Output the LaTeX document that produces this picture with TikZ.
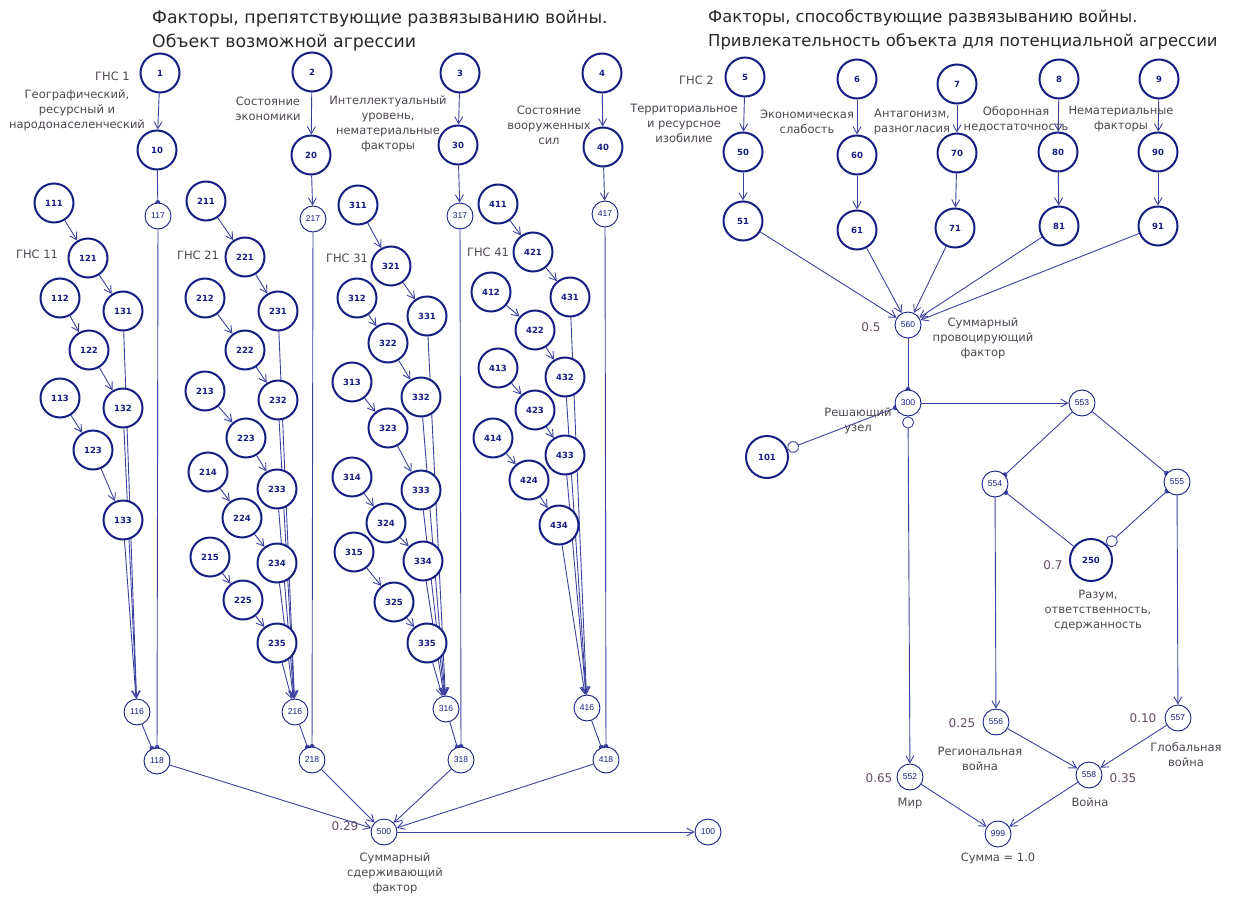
\documentclass[tikz,border=0pt]{standalone}
\usepackage{fontspec}
\setmainfont{DejaVu Sans}
\newfontfamily\narrowfont{Liberation Sans}
\usepackage{tikz}
\usetikzlibrary{arrows.meta,backgrounds}

\definecolor{nodeblue}{RGB}{22,30,130}
\definecolor{edgeblue}{RGB}{60,66,158}
\definecolor{labelgrey}{RGB}{78,70,80}
\definecolor{valgrey}{RGB}{100,76,100}
\definecolor{titlegrey}{RGB}{40,40,44}

\tikzset{
    fnode/.style={circle, draw=nodeblue, line width=2pt, fill=white, minimum size=39pt,
        inner sep=0pt, text=nodeblue, font=\bfseries\fontsize{8.5}{9}\selectfont},
    snode/.style={circle, draw=nodeblue, line width=0.9pt, fill=white, minimum size=26pt,
        inner sep=0pt, text=nodeblue, font=\narrowfont\fontsize{8.5}{9}\selectfont},
    lbl/.style={text=labelgrey, align=center, inner sep=0pt, font=\fontsize{11.5}{15}\selectfont},
    val/.style={text=valgrey, inner sep=0pt, font=\fontsize{12}{14}\selectfont},
    ttl/.style={text=titlegrey, align=left, inner sep=0pt, anchor=north west,
        font=\fontsize{17.3}{24}\selectfont},
    arr/.style={draw=edgeblue, line width=0.9pt, -{Straight Barb[length=7pt,width=8pt]}},
    inh/.style={draw=edgeblue, line width=0.9pt, -{Circle[length=5pt]}, shorten >=-2.5pt},
    inhopen/.style={draw=edgeblue, line width=0.9pt,
        {Circle[open,length=12pt]}-{Circle[length=5pt]}, shorten >=-2.5pt},
}

\begin{document}
\begin{tikzpicture}[x=1pt, y=-1pt]
    \useasboundingbox (0,0) rectangle (1234,899);

    % titles
    \node[ttl] (title1) at (152,10) {Факторы, препятствующие развязыванию войны.\\Объект возможной агрессии};
    \node[ttl, font=\fontsize{16.4}{24}\selectfont] (title2) at (708,10) {Факторы, способствующие развязыванию войны.\\Привлекательность объекта для потенциальной агрессии};

    % top chains of the left part
    \node[fnode] (n1) at (160,73) {1};
    \node[fnode] (n10) at (157,150) {10};
    \node[snode] (n117) at (158,216) {117};
    \node[fnode] (n2) at (312,72) {2};
    \node[fnode] (n20) at (311,155) {20};
    \node[snode] (n217) at (313,219) {217};
    \node[fnode] (n3) at (460,73) {3};
    \node[fnode] (n30) at (458,145) {30};
    \node[snode] (n317) at (460,216) {317};
    \node[fnode] (n4) at (602,73) {4};
    \node[fnode] (n40) at (603,147) {40};
    \node[snode] (n417) at (605,214) {417};

    % group 1
    \node[fnode] (n111) at (54,203) {111};
    \node[fnode] (n121) at (88,258) {121};
    \node[fnode] (n131) at (123,311) {131};
    \node[fnode] (n112) at (60,298) {112};
    \node[fnode] (n122) at (89,350) {122};
    \node[fnode] (n132) at (123,408) {132};
    \node[fnode] (n113) at (60,398) {113};
    \node[fnode] (n123) at (93,450) {123};
    \node[fnode] (n133) at (123,520) {133};
    \node[snode] (n116) at (137,712) {116};
    \node[snode] (n118) at (157,761) {118};

    % group 2
    \node[fnode] (n211) at (206,201) {211};
    \node[fnode] (n221) at (245,257) {221};
    \node[fnode] (n231) at (278,311) {231};
    \node[fnode] (n212) at (205,298) {212};
    \node[fnode] (n222) at (245,350) {222};
    \node[fnode] (n232) at (278,400) {232};
    \node[fnode] (n213) at (205,391) {213};
    \node[fnode] (n223) at (246,438) {223};
    \node[fnode] (n233) at (277,489) {233};
    \node[fnode] (n214) at (208,472) {214};
    \node[fnode] (n224) at (242,518) {224};
    \node[fnode] (n234) at (277,563) {234};
    \node[fnode] (n215) at (210,557) {215};
    \node[fnode] (n225) at (243,600) {225};
    \node[fnode] (n235) at (277,643) {235};
    \node[snode] (n216) at (295,712) {216};
    \node[snode] (n218) at (312,760) {218};

    % group 3
    \node[fnode] (n311) at (358,205) {311};
    \node[fnode] (n321) at (391,266) {321};
    \node[fnode] (n331) at (427,316) {331};
    \node[fnode] (n312) at (357,298) {312};
    \node[fnode] (n322) at (388,343) {322};
    \node[fnode] (n332) at (421,397) {332};
    \node[fnode] (n313) at (352,382) {313};
    \node[fnode] (n323) at (388,428) {323};
    \node[fnode] (n333) at (421,490) {333};
    \node[fnode] (n314) at (352,477) {314};
    \node[fnode] (n324) at (386,523) {324};
    \node[fnode] (n334) at (423,561) {334};
    \node[fnode] (n315) at (354,552) {315};
    \node[fnode] (n325) at (394,602) {325};
    \node[fnode] (n335) at (427,643) {335};
    \node[snode] (n316) at (446,709) {316};
    \node[snode] (n318) at (461,760) {318};

    % group 4
    \node[fnode] (n411) at (498,204) {411};
    \node[fnode] (n421) at (533,252) {421};
    \node[fnode] (n431) at (570,297) {431};
    \node[fnode] (n412) at (491,292) {412};
    \node[fnode] (n422) at (535,330) {422};
    \node[fnode] (n432) at (565,377) {432};
    \node[fnode] (n413) at (498,368) {413};
    \node[fnode] (n423) at (535,410) {423};
    \node[fnode] (n433) at (565,455) {433};
    \node[fnode] (n414) at (493,438) {414};
    \node[fnode] (n424) at (529,480) {424};
    \node[fnode] (n434) at (559,525) {434};
    \node[snode] (n416) at (587,708) {416};
    \node[snode] (n418) at (606,760) {418};

    \node[snode] (n500) at (384,832) {500};
    \node[snode] (n100) at (708,832) {100};

    % right part
    \node[fnode] (n5) at (745,77) {5};
    \node[fnode] (n50) at (743,152) {50};
    \node[fnode] (n51) at (743,221) {51};
    \node[fnode] (n6) at (857,79) {6};
    \node[fnode] (n60) at (857,155) {60};
    \node[fnode] (n61) at (857,230) {61};
    \node[fnode] (n7) at (957,84) {7};
    \node[fnode] (n70) at (957,153) {70};
    \node[fnode] (n71) at (955,228) {71};
    \node[fnode] (n8) at (1059,79) {8};
    \node[fnode] (n80) at (1058,152) {80};
    \node[fnode] (n81) at (1059,226) {81};
    \node[fnode] (n9) at (1159,79) {9};
    \node[fnode] (n90) at (1158,152) {90};
    \node[fnode] (n91) at (1158,226) {91};

    \node[snode] (n560) at (908,325) {560};
    \node[snode] (n300) at (908,403) {300};
    \node[fnode, minimum size=42pt] (n101) at (767,457) {101};
    \node[snode] (n553) at (1082,403) {553};
    \node[snode] (n554) at (995,484) {554};
    \node[snode] (n555) at (1177,482) {555};
    \node[fnode, minimum size=42pt] (n250) at (1091,560) {250};
    \node[snode] (n556) at (996,722) {556};
    \node[snode] (n557) at (1178,718) {557};
    \node[snode] (n552) at (910,777) {552};
    \node[snode] (n558) at (1089,775) {558};
    \node[snode] (n999) at (998,834) {999};

    % texts
    \node[lbl, anchor=east] (g1) at (130,76) {ГНС 1};
    \node[lbl] (d1) at (77,110) {Географический,\\ресурсный и\\народонаселенческий};
    \node[lbl] (d2) at (268,109) {Состояние\\экономики};
    \node[lbl] (d3) at (388,124) {Интеллектуальный\\уровень,\\нематериальные\\факторы};
    \node[lbl] (d4) at (549,125) {Состояние\\вооруженных\\сил};
    \node[lbl, anchor=east] (g2) at (714,80) {ГНС 2};
    \node[lbl] (d5) at (684,123) {Территориальное\\и ресурсное\\изобилие};
    \node[lbl] (d6) at (807,122) {Экономическая\\слабость};
    \node[lbl] (d7) at (912,122) {Антагонизм,\\разногласия};
    \node[lbl] (d8) at (1016,119) {Оборонная\\недостаточность};
    \node[lbl] (d9) at (1121,119) {Нематериальные\\факторы};
    \node[lbl] (g11) at (37,254) {ГНС 11};
    \node[lbl] (g21) at (198,255) {ГНС 21};
    \node[lbl] (g31) at (347,258) {ГНС 31};
    \node[lbl] (g41) at (488,252) {ГНС 41};
    \node[val] (v500) at (345,826) {0.29};
    \node[lbl] (d500) at (395,873) {Суммарный\\сдерживающий\\фактор};
    \node[val] (v560) at (871,327) {0.5};
    \node[lbl] (d560) at (983,338) {Суммарный\\провоцирующий\\фактор};
    \node[lbl] (d300) at (858,421) {Решающий\\узел};
    \node[val] (v250) at (1053,565) {0.7};
    \node[lbl] (d250) at (1098,610) {Разум,\\ответственность,\\сдержанность};
    \node[val] (v556) at (962,723) {0.25};
    \node[lbl] (d556) at (980,759) {Региональная\\война};
    \node[val] (v557) at (1143,718) {0.10};
    \node[lbl] (d557) at (1186,755) {Глобальная\\война};
    \node[val] (v552) at (879,778) {0.65};
    \node[lbl] (d552) at (910,803) {Мир};
    \node[val] (v558) at (1123,778) {0.35};
    \node[lbl] (d558) at (1090,802) {Война};
    \node[lbl] (d999) at (998,858) {Сумма = 1.0};

    \begin{scope}[on background layer]
        % left part
        \foreach \g/\m in {1/3,2/5,3/5,4/4} {
            \foreach \r in {1,...,\m} {
                \draw[arr] (n\g1\r) -- (n\g2\r);
                \draw[arr] (n\g2\r) -- (n\g3\r);
                \draw[arr] (n\g3\r) -- (n\g16);
            }
        }
        \foreach \g in {1,...,4} {
            \draw[arr] (n\g) -- (n\g0);
            \draw[inh] (n\g17) -- (n\g18);
            \draw[inh] (n\g16) -- (n\g18);
            \draw[arr] (n\g18) -- (n500);
        }
        \draw[inh] (n10) -- (n117);
        \foreach \g in {2,3,4}
            \draw[arr] (n\g0) -- (n\g17);
        \draw[arr] (n500) -- (n100);

        % right part
        \foreach \g in {5,...,9} {
            \draw[arr] (n\g) -- (n\g0);
            \draw[arr] (n\g0) -- (n\g1);
            \draw[arr] (n\g1) -- (n560);
        }
        \draw[inh] (n560) -- (n300);
        \draw[inhopen] (n101) -- (n300);
        \draw[arr] (n300) -- (n553);
        \draw[draw=edgeblue, line width=0.9pt, {Circle[open,length=12pt]}-{Straight Barb[length=7pt,width=8pt]}] (n300) -- (n552);
        \draw[inh] (n553) -- (n554);
        \draw[inh] (n553) -- (n555);
        \draw[inh] (n250) -- (n554);
        \draw[inhopen] (n250) -- (n555);
        \draw[arr] (n554) -- (n556);
        \draw[arr] (n555) -- (n557);
        \draw[arr] (n556) -- (n558);
        \draw[arr] (n557) -- (n558);
        \draw[arr] (n552) -- (n999);
        \draw[arr] (n558) -- (n999);
    \end{scope}
\end{tikzpicture}
\end{document}
